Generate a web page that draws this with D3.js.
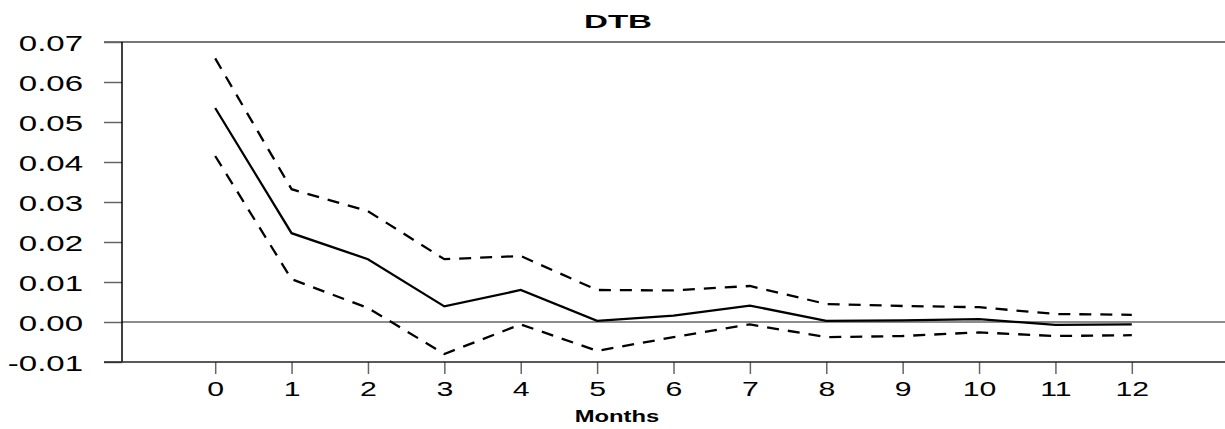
<!DOCTYPE html>
<html>
<head>
<meta charset="utf-8">
<script src="https://cdn.jsdelivr.net/npm/d3@7"></script>
<style>
  body { margin: 0; background: #fff; }
  svg { display: block; }
  text { font-family: "Liberation Sans", Arial, sans-serif; fill: #000; }
</style>
</head>
<body>
<div id="chart"></div>
<script>
// impulse response data
var months = [0, 1, 2, 3, 4, 5, 6, 7, 8, 9, 10, 11, 12];
var response = [0.0535, 0.0222, 0.0157, 0.0039, 0.0080, 0.0003, 0.0016, 0.0041, 0.0003, 0.0004, 0.0007, -0.0007, -0.0006];
var upperBand = [0.0659, 0.0332, 0.0277, 0.0157, 0.0165, 0.0080, 0.0079, 0.0090, 0.0045, 0.0040, 0.0037, 0.0020, 0.0018];
var lowerBand = [0.0415, 0.0107, 0.0035, -0.0080, -0.0006, -0.0072, -0.0038, -0.0006, -0.0038, -0.0035, -0.0026, -0.0035, -0.0033];
var yTicks = [-0.01, 0.00, 0.01, 0.02, 0.03, 0.04, 0.05, 0.06, 0.07];
var chartTitle = "DTB";
var xTitle = "Months";

var svgWidth = 1225;
var svgHeight = 429;

var margin = { top: 42, right: 0, bottom: 67, left: 122 };
var width = svgWidth - margin.left - margin.right;
var height = svgHeight - margin.top - margin.bottom;

var svg = d3.select("#chart")
  .append("svg")
  .attr("width", svgWidth)
  .attr("height", svgHeight);

var chartGroup = svg.append("g")
  .attr("transform", `translate(${margin.left}, ${margin.top})`);

var xLinearScale = d3.scaleLinear()
  .domain([-1.22, 13.22])
  .range([0, width]);

var yLinearScale = d3.scaleLinear()
  .domain([-0.01, 0.07])
  .range([height, 0]);

// top frame line and zero line
chartGroup.append("line")
  .attr("x1", -18).attr("x2", width)
  .attr("y1", yLinearScale(0.07)).attr("y2", yLinearScale(0.07))
  .attr("stroke", "#777").attr("stroke-width", 2);

chartGroup.append("line")
  .attr("x1", 0).attr("x2", width)
  .attr("y1", yLinearScale(0)).attr("y2", yLinearScale(0))
  .attr("stroke", "#666").attr("stroke-width", 1.5);

// y axis
var fmt = d3.format(".2f");
var leftAxis = d3.axisLeft(yLinearScale)
  .tickValues(yTicks)
  .tickSize(18)
  .tickFormat(d => fmt(d).replace("\u2212", "-"));

var yAxis = chartGroup.append("g").call(leftAxis);
yAxis.select(".domain").remove();
yAxis.selectAll(".tick line").attr("stroke", "#666").attr("stroke-width", 1.5);
yAxis.selectAll(".tick text")
  .attr("x", 0).attr("dy", null)
  .attr("text-anchor", "end")
  .style("font-size", "22px")
  .attr("transform", "translate(-39, 8) scale(1.5, 1)");

chartGroup.append("line")
  .attr("x1", 0).attr("x2", 0)
  .attr("y1", 0).attr("y2", height)
  .attr("stroke", "#000").attr("stroke-width", 1.5);

// x axis
var bottomAxis = d3.axisBottom(xLinearScale)
  .tickValues(months)
  .tickSize(12)
  .tickFormat(d3.format("d"));

var xAxis = chartGroup.append("g")
  .attr("transform", `translate(0, ${height})`)
  .call(bottomAxis);
xAxis.select(".domain").remove();
xAxis.selectAll(".tick line").attr("stroke", "#666").attr("stroke-width", 1.5);
xAxis.selectAll(".tick text")
  .attr("y", 0).attr("dy", null)
  .style("font-size", "19.5px")
  .attr("transform", "translate(0, 34) scale(1.55, 1)");

chartGroup.append("line")
  .attr("x1", -18).attr("x2", width)
  .attr("y1", height).attr("y2", height)
  .attr("stroke", "#222").attr("stroke-width", 1.5);

// lines
var lineGen = d3.line()
  .x((d, i) => xLinearScale(months[i]))
  .y(d => yLinearScale(d));

chartGroup.append("path")
  .datum(upperBand)
  .attr("d", lineGen)
  .attr("fill", "none")
  .attr("stroke", "#000")
  .attr("stroke-width", 2.3)
  .attr("stroke-dasharray", "12,9");

chartGroup.append("path")
  .datum(lowerBand)
  .attr("d", lineGen)
  .attr("fill", "none")
  .attr("stroke", "#000")
  .attr("stroke-width", 2.3)
  .attr("stroke-dasharray", "12,9");

chartGroup.append("path")
  .datum(response)
  .attr("d", lineGen)
  .attr("fill", "none")
  .attr("stroke", "#000")
  .attr("stroke-width", 2.3);

// titles
svg.append("text")
  .attr("text-anchor", "middle")
  .style("font-size", "18.6px")
  .style("font-weight", "bold")
  .attr("transform", "translate(618, 28.3) scale(1.78, 1)")
  .text(chartTitle);

svg.append("text")
  .attr("text-anchor", "middle")
  .style("font-size", "17px")
  .style("font-weight", "bold")
  .attr("transform", "translate(617, 422) scale(1.4, 1)")
  .text(xTitle);
</script>
</body>
</html>
